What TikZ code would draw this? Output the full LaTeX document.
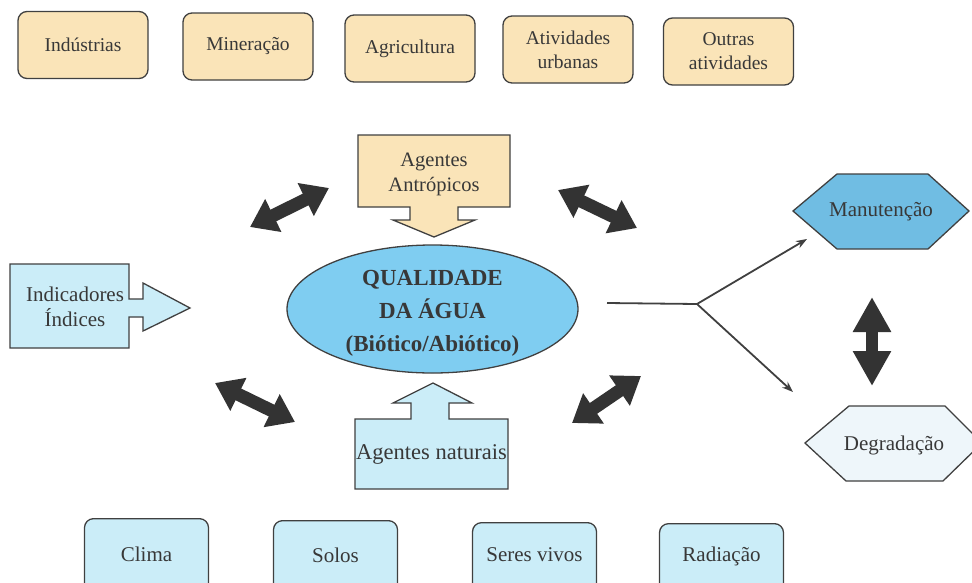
\documentclass[tikz,border=0pt]{standalone}
\usepackage{fontspec}
\setmainfont{Liberation Serif}
\usetikzlibrary{arrows.meta,shapes.geometric}
\definecolor{tanfill}{HTML}{FAE4B8}
\definecolor{lblue}{HTML}{CBEDF8}
\definecolor{ellblue}{HTML}{7FCDF1}
\definecolor{manblue}{HTML}{70BDE3}
\definecolor{degfill}{HTML}{EEF6FA}
\definecolor{edgegray}{HTML}{404040}
\definecolor{txtgray}{HTML}{383838}
\definecolor{arrgray}{HTML}{333333}
\tikzset{
  rbox/.style={draw=edgegray, line width=1.3pt, rounded corners=9pt, align=center,
    text=txtgray, font=\fontsize{19.5}{24}\selectfont, inner sep=0pt},
  tanbox/.style={rbox, fill=tanfill, minimum width=130pt, minimum height=67pt},
  bluebox/.style={rbox, fill=lblue, minimum width=124pt, minimum height=76pt},
  shapeline/.style={draw=edgegray, line width=1.3pt, line join=miter},
  lbl/.style={text=txtgray, align=center, font=\fontsize{21}{25}\selectfont, inner sep=0pt},
  dbl/.style={draw=arrgray, line width=13pt,
    {Triangle[length=26pt,width=35pt]}-{Triangle[length=26pt,width=35pt]}},
  vdbl/.style={draw=arrgray, line width=12pt,
    {Triangle[length=35pt,width=36pt]}-{Triangle[length=35pt,width=36pt]}},
  branch/.style={draw=edgegray, line width=1.8pt},
}
\begin{document}
\begin{tikzpicture}[x=1pt,y=-1pt]
\useasboundingbox (0,0) rectangle (972,582);
\clip (0,0) rectangle (972,582);
\fill[white] (0,0) rectangle (972,582);

% top row
\node[tanbox] (ind) at (83,45) {Indústrias};
\node[tanbox] (min) at (248,46.5) {Mineração};
\node[tanbox] (agr) at (410,48.5) {Agricultura};
\node[tanbox] (urb) at (568,49.5) {Atividades\\urbanas};
\node[tanbox] (out) at (728.5,51.5) {Outras\\atividades};

% Agentes Antropicos callout
\path[shapeline, fill=tanfill] (358,135) -- (510,135) -- (510,207) -- (458,207) -- (458,220)
  -- (475,220) -- (434,237) -- (393,220) -- (410,220) -- (410,207) -- (358,207) -- cycle;
\node[lbl, font=\fontsize{20.5}{25}\selectfont] (antr) at (434,174) {Agentes\\Antrópicos};

% central ellipse
\node[ellipse, draw=edgegray, line width=1.3pt, fill=ellblue, minimum width=291pt,
  minimum height=128pt, inner sep=0pt] (q) at (432.5,309) {};
\node[lbl, font=\bfseries\fontsize{23}{33}\selectfont] (qt) at (432.5,313)
  {QUALIDADE\\DA ÁGUA\\(Biótico/Abiótico)};

% Indicadores callout
\path[shapeline, fill=lblue] (10,264) -- (129,264) -- (129,299) -- (143,299) -- (143,283)
  -- (190,308) -- (143,331) -- (143,317) -- (129,317) -- (129,348) -- (10,348) -- cycle;
\node[lbl] (indic) at (75,307) {Indicadores\\Índices};

% Agentes naturais callout
\path[shapeline, fill=lblue] (355,419) -- (411,419) -- (411,403) -- (393,403) -- (433,383)
  -- (472,403) -- (449,403) -- (449,419) -- (508,419) -- (508,489) -- (355,489) -- cycle;
\node[lbl, font=\fontsize{22.5}{26}\selectfont] (nat) at (431.5,454) {Agentes naturais};

% Manutencao hexagon
\path[shapeline, fill=manblue] (793,211) -- (837,174) -- (928,174) -- (969,211)
  -- (928,249) -- (837,249) -- cycle;
\node[lbl] (man) at (881,212) {Manutenção};

% Degradacao hexagon
\path[shapeline, fill=degfill] (805,443) -- (849,406) -- (945,406) -- (982,443)
  -- (943,481) -- (846,481) -- cycle;
\node[lbl] (deg) at (894,445) {Degradação};

% bottom row
\node[bluebox, anchor=north] (cli) at (146.5,518) {};
\node[lbl] (clit) at (146.5,554) {Clima};
\node[bluebox, anchor=north] (sol) at (335.5,520) {};
\node[lbl] (solt) at (335.5,555) {Solos};
\node[bluebox, anchor=north] (ser) at (534.5,522) {};
\node[lbl] (sert) at (534.5,555) {Seres vivos};
\node[bluebox, anchor=north] (rad) at (721.5,523) {};
\node[lbl] (radt) at (721.5,556) {Radiação};

% double arrows
\coordinate (ulA) at (250,227); \coordinate (ulB) at (329,188);
\coordinate (urA) at (558,190); \coordinate (urB) at (637,228);
\coordinate (llA) at (215,383); \coordinate (llB) at (295,422);
\coordinate (lrA) at (572,423); \coordinate (lrB) at (641,376);
\coordinate (vA) at (872,297);  \coordinate (vB) at (872,386);
\draw[dbl] (ulA) -- (ulB);
\draw[dbl] (urA) -- (urB);
\draw[dbl] (llA) -- (llB);
\draw[dbl] (lrA) -- (lrB);
\draw[vdbl] (vA) -- (vB);

% branching connector
\coordinate (qs) at (607,303);
\coordinate (br) at (697,304);
\coordinate (manT) at (807,239);
\coordinate (degT) at (793,392);
\draw[branch] (qs) -- (br);
\draw[branch, -{Stealth[length=11pt,width=8pt]}] (br) -- (manT);
\draw[branch, -{Stealth[length=11pt,width=8pt]}] (br) -- (degT);
\end{tikzpicture}
\end{document}
